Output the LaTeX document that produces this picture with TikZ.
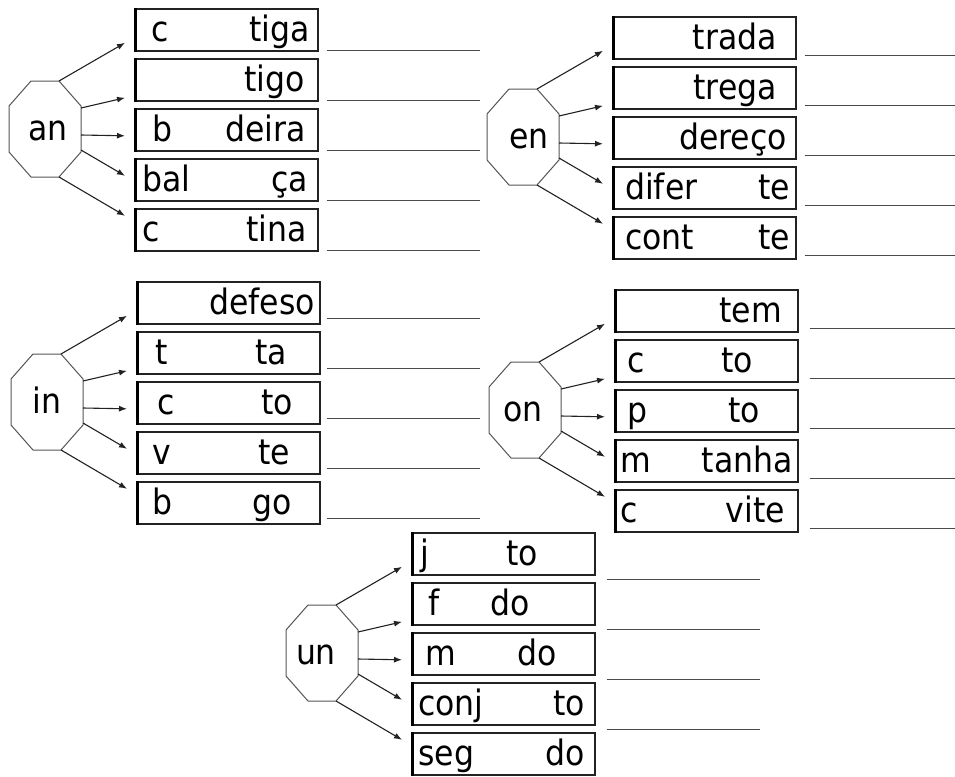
\documentclass[tikz,border=0pt]{standalone}
\usepackage{fontspec}
\setmainfont{DejaVu Sans Condensed}
\usetikzlibrary{arrows.meta,calc}
\definecolor{ink}{HTML}{222222}
\definecolor{octc}{HTML}{555555}
\definecolor{linec}{HTML}{4A4A4A}
\tikzset{
 wbox/.style={draw=ink, line width=1.6pt, minimum width=182pt, minimum height=42pt, inner sep=0, anchor=north west},
 lbar/.style={draw=black, line width=3pt},
 lt/.style={anchor=base west, inner sep=0, font=\fontsize{35}{40}\selectfont},
 rt/.style={anchor=base east, inner sep=0, font=\fontsize{35}{40}\selectfont},
 octlab/.style={inner sep=0, anchor=base, font=\fontsize{35}{40}\selectfont},
 octline/.style={draw=octc, line width=1pt},
 arr/.style={draw=ink, line width=1.1pt, -{Latex[length=8pt,width=6pt]}},
 ans/.style={draw=linec, line width=1.3pt},
}
\newcommand\octgroup[5]{%
 \begin{scope}[shift={(#2,#3)}]
  \draw[octline] (-14,-48) -- (14,-48) -- (36,-23) -- (36,23) -- (14,48) -- (-14,48) -- (-36,23) -- (-36,-23) -- cycle;
  \node[octlab] (#1) at (#5,11) {#4};
  \coordinate (#1-c1) at (14,-48);
  \coordinate (#1-c2) at (36,-21);
  \coordinate (#1-c3) at (36,6);
  \coordinate (#1-c4) at (36,21);
  \coordinate (#1-c5) at (14,48);
  \foreach \i in {1,...,5} {
    \node[wbox] (#1-\i) at (90,{-121+50*(\i-1)}) {};
    \draw[lbar] (#1-\i.north west) -- (#1-\i.south west);
  }
  \draw[arr] (#1-c1) -- ($(#1-1.west)+(-10,13)$);
  \draw[arr] (#1-c2) -- ($(#1-2.west)+(-10,18)$);
  \draw[arr] (#1-c3) -- ($(#1-3.west)+(-10,6)$);
  \draw[arr] (#1-c4) -- ($(#1-4.west)+(-10,-4)$);
  \draw[arr] (#1-c5) -- ($(#1-5.west)+(-10,-14)$);
 \end{scope}}
\newcommand\bt[5]{%
 \node[lt] (#1l) at ($(#1.south west)+(#2,-10)$) {#3};
 \node[rt] (#1r) at ($(#1.south west)+(#4,-10)$) {#5};}
\newcommand\anslines[4]{%
 \foreach \i in {1,...,#2} {\draw[ans] ($(#1-\i.south east)+(#3,#4)$) -- ++(153,0);}}
\begin{document}
\begin{tikzpicture}[x=1pt,y=-1pt]
\useasboundingbox (0,0) rectangle (955,776);
\fill[white] (0,0) rectangle (955,776);

% an
\octgroup{an}{45}{129}{an}{3}
\bt{an-1}{16}{c}{175}{tiga}
\bt{an-2}{16}{}{170}{tigo}
\bt{an-3}{17}{b}{171}{deira}
\bt{an-4}{7}{bal}{173}{ça}
\bt{an-5}{7}{c}{172}{tina}
\anslines{an}{5}{8}{-1}

% en
\octgroup{en}{523}{137}{en}{6}
\bt{en-1}{12}{}{164}{trada}
\bt{en-2}{12}{}{164}{trega}
\bt{en-3}{12}{}{174}{dereço}
\bt{en-4}{12}{difer}{177}{te}
\bt{en-5}{12}{cont}{177}{te}
\anslines{en}{5}{8}{-4}

% in
\octgroup{in}{47}{402}{in}{0}
\bt{in-1}{12}{}{178}{defeso}
\bt{in-2}{18}{t}{150}{ta}
\bt{in-3}{20}{c}{156}{to}
\bt{in-4}{15}{v}{153}{te}
\bt{in-5}{15}{b}{155}{go}
\anslines{in}{5}{6}{-6}

% on
\octgroup{on}{525}{410}{on}{-2}
\bt{on-1}{12}{}{167}{tem}
\bt{on-2}{12}{c}{138}{to}
\bt{on-3}{12}{p}{145}{to}
\bt{on-4}{5}{m}{178}{tanha}
\bt{on-5}{5}{c}{170}{vite}
\anslines{on}{5}{11}{-4}

% un
\octgroup{un}{322}{653}{un}{-6}
\bt{un-1}{8}{j}{126}{to}
\bt{un-2}{16}{f}{118}{do}
\bt{un-3}{13}{m}{145}{do}
\bt{un-4}{6}{conj}{173}{to}
\bt{un-5}{6}{seg}{173}{do}
\anslines{un}{4}{11}{4}
\end{tikzpicture}
\end{document}
